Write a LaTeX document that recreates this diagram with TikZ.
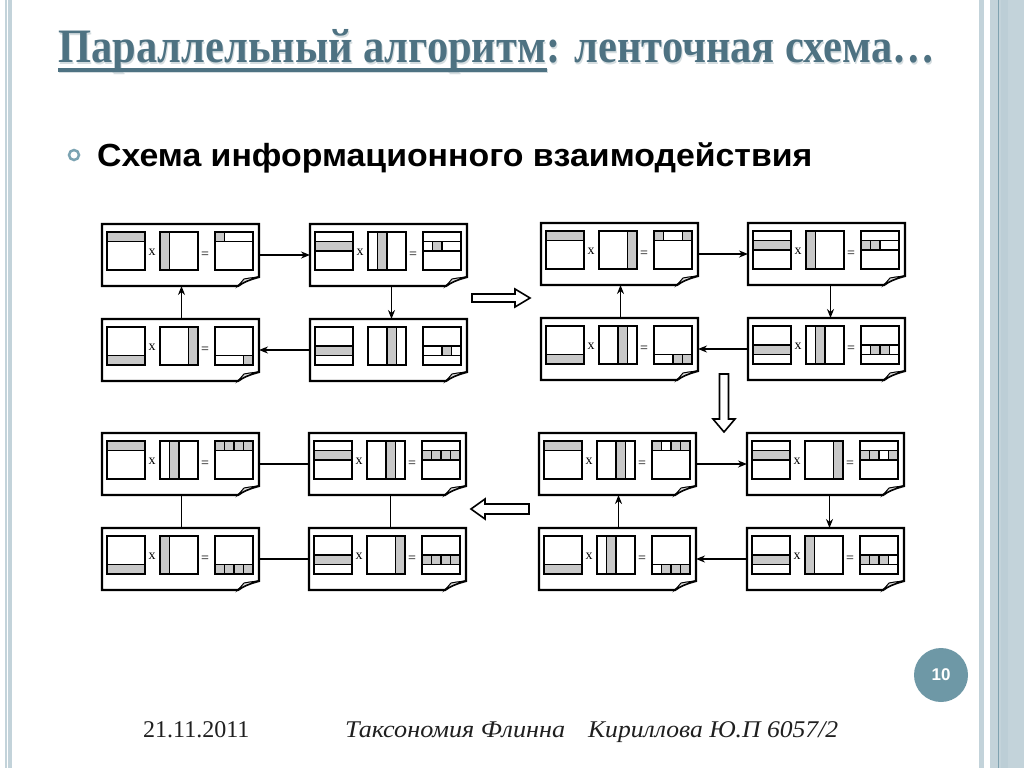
\documentclass[tikz,border=0pt]{standalone}
\usepackage{fontspec}
\setmainfont{Liberation Serif}
\newfontfamily\arialf{Liberation Sans}
\usetikzlibrary{arrows.meta,calc}
\definecolor{gr}{HTML}{C8C8C8}
\definecolor{flapc}{HTML}{DCDCDC}
\definecolor{titlec}{HTML}{4E7282}
\definecolor{shadowc}{HTML}{D5DDE0}
\definecolor{bcol}{HTML}{C3D3DA}
\definecolor{bdark}{HTML}{7FA2B0}
\definecolor{bulc}{HTML}{7BA3B2}
\definecolor{circc}{HTML}{6E98A6}
\tikzset{
 pline/.style={line width=2.2pt, line join=miter},
 mline/.style={line width=1.9pt},
 panelnode/.style={rectangle, minimum width=157pt, minimum height=62pt, inner sep=0pt, outer sep=0pt},
 conn/.style={line width=1.8pt, -{Stealth[length=9pt,width=7pt]}},
 link/.style={line width=1.5pt},
 hollow/.style={line width=1.6pt, fill=white, line join=miter},
 opfont/.style={font=\fontsize{14}{14}\selectfont, inner sep=0pt}
}
% #1 name, #2 x, #3 y, #4 gray row, #5 gray col, #6 gray cells of result, #7 show operators
\newcommand{\mypanel}[7]{%
 \begin{scope}[shift={(#2,#3)}]
  \draw[pline, fill=white] (0,0) -- (157,0) -- (157,53) .. controls (149,55) and (141,58) .. (136,62) -- (0,62) -- cycle;
  \filldraw[line width=1pt, fill=flapc] (136,62) -- (142,55) .. controls (147,54) .. (157,53) .. controls (149,55) and (141,58) .. (136,62) -- cycle;
  \node[panelnode] (#1) at (78.5,31) {};
  % left matrix
  \filldraw[mline, fill=gr] (5,{8+(#4-1)*9.5}) rectangle (43,{8+#4*9.5});
  \draw[mline] (5,8) rectangle (43,46);
  % middle matrix
  \filldraw[mline, fill=gr] ({58+(#5-1)*9.5},8) rectangle ({58+#5*9.5},46);
  \draw[mline] (58,8) rectangle (96,46);
  % result matrix
  \draw[mline] (113,{8+(#4-1)*9.5}) rectangle (151,{8+#4*9.5});
  \foreach \c in {#6} {\filldraw[mline, fill=gr] ({113+(\c-1)*9.5},{8+(#4-1)*9.5}) rectangle ({113+\c*9.5},{8+#4*9.5});}
  \draw[mline] (113,8) rectangle (151,46);
  \ifnum#7=1
   \node[opfont] at (50,28) {x};
   \node[opfont] at (103,31) {=};
  \fi
 \end{scope}}
\begin{document}
\begin{tikzpicture}[x=1pt,y=-1pt]
\useasboundingbox (0,0) rectangle (1024,768);
\fill[white] (0,0) rectangle (1024,768);
% borders
\fill[bcol] (5,0) rectangle (7,768);
\fill[bcol] (8,0) rectangle (12,768);
\fill[bcol] (979,0) rectangle (984,768);
\fill[bcol] (990,0) rectangle (1024,768);
\fill[bcol!90!bdark] (1001,0) rectangle (1008,768);
\draw[bdark, line width=0.8pt] (998,0) -- (998,768);
% title
\node[anchor=base west, inner sep=0pt, text=shadowc, font=\bfseries\fontsize{48}{48}\selectfont] at (59,64)
  {\resizebox{877pt}{\height}{Параллельный алгоритм: ленточная схема…}};
\fill[shadowc] (59,69) rectangle (548,72.5);
\node[anchor=base west, inner sep=0pt, text=titlec, font=\bfseries\fontsize{48}{48}\selectfont] (title) at (58,63)
  {\resizebox{877pt}{\height}{Параллельный алгоритм: ленточная схема…}};
\fill[titlec] (58,68) rectangle (547,71.5);
% bullet + subtitle
\draw[bulc, line width=2.5pt] (74,155) circle (5);
\node[anchor=base west, inner sep=0pt, font=\arialf\bfseries\fontsize{32}{32}\selectfont] (sub) at (97,166)
  {\resizebox{715pt}{\height}{Схема информационного взаимодействия}};
% panels
\mypanel{A}{102}{224}{1}{1}{1}{1}
\mypanel{B}{310}{224}{2}{2}{2}{1}
\mypanel{C}{102}{319}{4}{4}{4}{1}
\mypanel{D}{310}{319}{3}{3}{3}{0}
\mypanel{E}{541}{223}{1}{4}{1,4}{1}
\mypanel{F}{748}{223}{2}{1}{1,2}{1}
\mypanel{G}{541}{318}{4}{3}{3,4}{1}
\mypanel{H}{748}{318}{3}{2}{2,3}{1}
\mypanel{M}{539}{433}{1}{3}{1,3,4}{1}
\mypanel{N}{747}{433}{2}{4}{1,2,4}{1}
\mypanel{O}{539}{528}{4}{2}{2,3,4}{1}
\mypanel{P}{747}{528}{3}{1}{1,2,3}{1}
\mypanel{I}{102}{433}{1}{2}{1,2,3,4}{1}
\mypanel{J}{309}{433}{2}{3}{1,2,3,4}{1}
\mypanel{K}{102}{528}{4}{1}{1,2,3,4}{1}
\mypanel{L}{309}{528}{3}{4}{1,2,3,4}{1}
% connectors
\draw[conn] (A.east) -- (B.west);
\draw[conn] ([xshift=3pt]B.south) -- ([xshift=3pt]D.north);
\draw[conn] (D.west) -- (C.east);
\draw[conn] ([xshift=1pt]C.north) -- ([xshift=1pt]A.south);
\draw[conn] (E.east) -- (F.west);
\draw[conn] ([xshift=4pt]F.south) -- ([xshift=4pt]H.north);
\draw[conn] (H.west) -- (G.east);
\draw[conn] ([xshift=1pt]G.north) -- ([xshift=1pt]E.south);
\draw[conn] (M.east) -- (N.west);
\draw[conn] ([xshift=4pt]N.south) -- ([xshift=4pt]P.north);
\draw[conn] (P.west) -- (O.east);
\draw[conn] ([xshift=1pt]O.north) -- ([xshift=1pt]M.south);
\draw[link] (I.east) -- (J.west);
\draw[link] ([xshift=1pt]I.south) -- ([xshift=1pt]K.north);
\draw[link] ([xshift=3pt]J.south) -- ([xshift=3pt]L.north);
\draw[link] (K.east) -- (L.west);
% hollow block arrows
\draw[hollow] (472,294) -- (515,294) -- (515,289) -- (530,298) -- (515,307) -- (515,302) -- (472,302) -- cycle;
\draw[hollow] (719.5,374) -- (728.5,374) -- (728.5,419) -- (735,419) -- (724,432) -- (713,419) -- (719.5,419) -- cycle;
\draw[hollow] (529,504) -- (485,504) -- (485,499) -- (471,509) -- (485,519) -- (485,514) -- (529,514) -- cycle;
% page number
\fill[circc] (941,675) circle (27);
\node[text=white, font=\arialf\bfseries\fontsize{17}{17}\selectfont] (pg) at (941,675) {10};
% footer
\node[anchor=base west, inner sep=0pt, text=black!88, font=\fontsize{24}{24}\selectfont] (date) at (143,737) {21.11.2011};
\node[anchor=base west, inner sep=0pt, text=black!88, font=\itshape\fontsize{24}{24}\selectfont] (ft1) at (345,737) {\resizebox{220pt}{\height}{Таксономия Флинна}};
\node[anchor=base west, inner sep=0pt, text=black!88, font=\itshape\fontsize{24}{24}\selectfont] (ft2) at (588,737) {\resizebox{250pt}{\height}{Кириллова Ю.П 6057/2}};
\end{tikzpicture}
\end{document}
